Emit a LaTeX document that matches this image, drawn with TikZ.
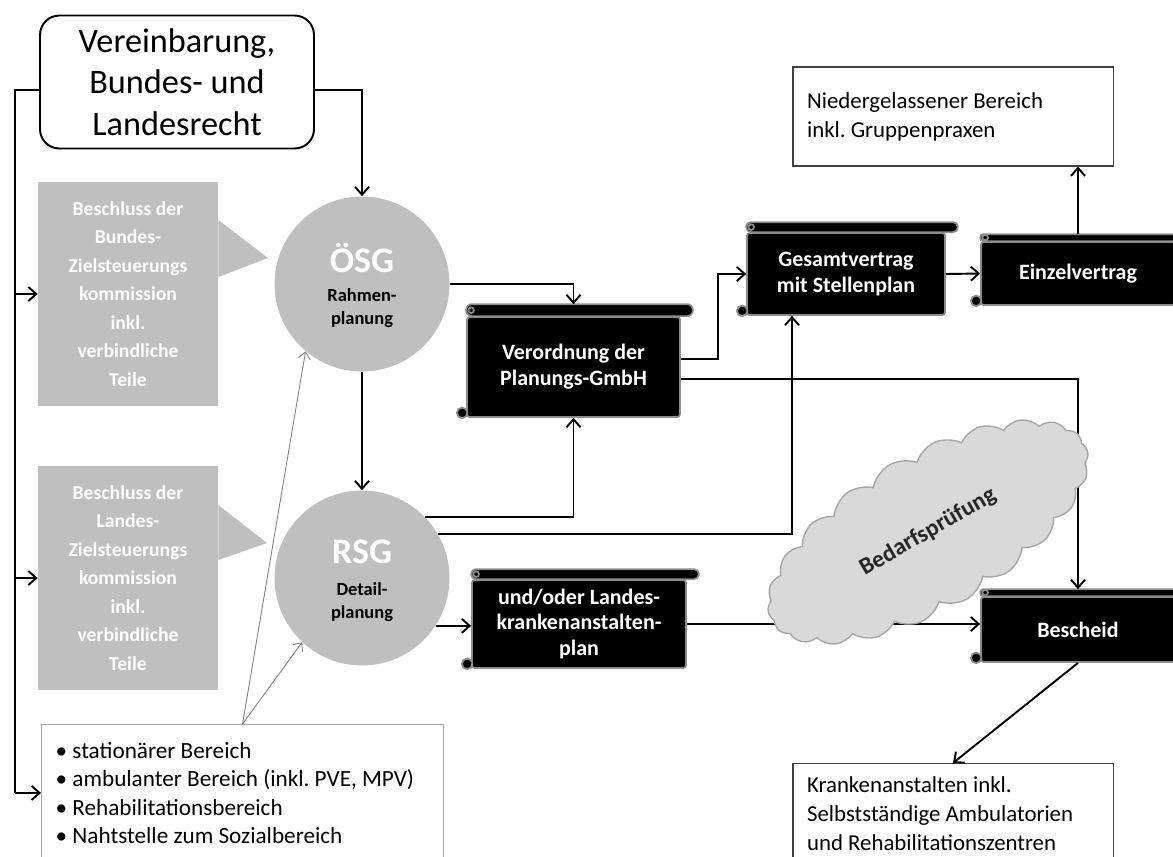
\documentclass[tikz,border=0pt]{standalone}
\usepackage{fontspec}
\setmainfont{Carlito}
\usetikzlibrary{calc,shapes.symbols,arrows.meta}

\definecolor{plangray}{HTML}{BFBFBF}
\definecolor{cloudgray}{HTML}{D9D9D9}
\definecolor{rimgray}{HTML}{8C8C8C}

\tikzset{
	wire/.style={line width=1.1pt},
	conn/.style={wire, -{Straight Barb[length=4.5pt,width=8pt]}},
	hint/.style={line width=0.5pt, draw=gray, -{Straight Barb[length=4pt,width=7pt]}},
	recht/.style={draw, line width=1.1pt, rounded corners=11pt, minimum width=5.48cm, minimum height=2.66cm, inner sep=0, align=center, font=\fontsize{19.5}{23.5}\selectfont},
	beschluss/.style={fill=plangray, text=white, align=center, minimum width=3.6cm, minimum height=4.48cm, inner sep=0, font=\fontsize{11.2}{16.2}\selectfont\bfseries},
	plan/.style={circle, fill=plangray, minimum size=3.5cm, inner sep=0},
	plantitle/.style={text=white, font=\fontsize{20.5}{22}\selectfont\bfseries},
	plansub/.style={align=center, inner sep=0, font=\fontsize{10.5}{13.3}\selectfont\bfseries},
	scroll/.style={fill=black, draw=rimgray, line width=1pt, rounded corners=1.5pt, text=white, align=center, inner sep=0, font=\fontsize{12.5}{14.7}\selectfont\bfseries},
	scrollrim/.style={draw=rimgray, fill=black, line width=1pt},
	infobox/.style={draw=black!75, line width=0.6pt, align=flush left, inner xsep=8pt, text width=5.84cm, font=\fontsize{13}{16.4}\selectfont},
	liste/.style={draw=black!35, line width=0.6pt, align=flush left, inner xsep=8pt, inner ysep=10pt, text width=7.48cm, font=\fontsize{13.2}{16.2}\selectfont},
	wolke/.style={cloud, cloud puffs=22, cloud puff arc=100, aspect=2.4, fill=cloudgray, draw=black!35, line width=0.8pt, minimum width=7.2cm, minimum height=3.1cm, rotate=30, text=black!85, font=\fontsize{13.5}{15}\selectfont\bfseries},
}

\def\scrolldeco(#1:#2){%
	\draw[scrollrim, rounded corners=#2*0.0095cm] (#1.north west) -- ($(#1.north west)+(0,-#2)$) -- ($(#1.north east)+(12,-#2)$) -- ($(#1.north east)+(12,0)$) -- cycle;
	\draw[scrollrim] ($(#1.north west)+(5,{-#2/2})$) circle [radius=1.6pt];
	\draw[scrollrim] ($(#1.south west)+(-4,-5)$) circle [radius=3pt];
	\coordinate (#1-top) at ($(#1.north)+(0,-#2)$);
}

\frenchspacing

\begin{document}
\begin{tikzpicture}[x=0.02cm, y=-0.02cm]
	%%%%% START %%%%%
	\useasboundingbox (0,0) rectangle (1173,856);
	
	% Rechtsgrundlage
	\node[recht] (recht) at (177,82) {Vereinbarung,\\Bundes- und\\Landesrecht};
	
	% Beschluesse der Zielsteuerungskommissionen
	\node[beschluss] (bund) at (128,294) {Beschluss der\\Bundes-\\Zielsteuerungs\\kommission\\inkl.\\verbindliche\\Teile};
	\fill[plangray] (bund.east |- 0,220) -- (268,258) -- (bund.east |- 0,277) -- cycle;
	\node[beschluss] (land) at (128,578) {Beschluss der\\Landes-\\Zielsteuerungs\\kommission\\inkl.\\verbindliche\\Teile};
	\fill[plangray] (land.east |- 0,505) -- (267,543) -- (land.east |- 0,560) -- cycle;
	
	% Planungsebenen
	\node[plan] (osg) at (362,284) {};
	\node[plantitle, anchor=base] (osg-t) at ($(osg.center)+(0,-12)$) {ÖSG};
	\node[plansub] (osg-s) at ($(osg.center)+(0,24)$) {Rahmen-\\planung};
	\node[plan] (rsg) at (362,578) {};
	\node[plantitle, anchor=base] (rsg-t) at ($(rsg.center)+(0,-15)$) {RSG};
	\node[plansub] (rsg-s) at ($(rsg.center)+(0,24)$) {Detail-\\planung};
	
	% Bereiche
	\node[liste, anchor=north west] (liste) at (41,724) {\makebox[9.6pt][l]{\textbullet}stationärer Bereich\\\makebox[9.6pt][l]{\textbullet}ambulanter Bereich (inkl. PVE, MPV)\\\makebox[9.6pt][l]{\textbullet}Rehabilitationsbereich\\\makebox[9.6pt][l]{\textbullet}Nahtstelle zum Sozialbereich};
	
	% Schriftrollen
	\node[scroll, minimum width=4.26cm, minimum height=2cm] (verord) at (573.5,367) {Verordnung der\\Planungs-GmbH};
	\scrolldeco(verord:12)
	\node[scroll, minimum width=3.96cm, minimum height=1.64cm] (gesamt) at (846,274) {Gesamtvertrag\\mit Stellenplan};
	\scrolldeco(gesamt:10)
	\node[scroll, minimum width=3.88cm, minimum height=1.26cm] (einzel) at (1078,273.5) {Einzelvertrag};
	\scrolldeco(einzel:7)
	\node[scroll, minimum width=4.28cm, minimum height=1.76cm] (landplan) at (579,624) {und/oder Landes-\\krankenanstalten-\\plan};
	\scrolldeco(landplan:10)
	\node[scroll, minimum width=3.88cm, minimum height=1.3cm] (bescheid) at (1078,629.5) {Bescheid};
	\scrolldeco(bescheid:7)
	
	% Versorgung
	\node[infobox, minimum height=1.98cm] (nieder) at (953,116.5) {Niedergelassener Bereich\\inkl. Gruppenpraxen};
	\node[infobox, anchor=north, inner ysep=7.5pt] (kranken) at (953,763) {Krankenanstalten inkl.\\Selbstständige Ambulatorien\\und Rehabilitationszentren};
	
	% Verbindungen
	\coordinate (rail) at (15,90);
	\draw[wire] (recht.west |- rail) -- (rail) -- (rail |- liste.west);
	\draw[conn] (rail |- bund.west) -- (bund.west);
	\draw[conn] (rail |- land.west) -- (land.west);
	\draw[conn] (rail |- liste.west) -- (liste.west);
	\draw[conn] (recht.east |- rail) -| (osg.north);
	\draw[conn] (osg.south) -- (rsg.north);
	\draw[conn] (osg.east) -| (verord-top);
	\draw[conn] (rsg.44) -| (verord.south);
	\draw[conn] (rsg.30) -| ([xshift=-1.08cm]gesamt.south);
	\draw[conn] ([yshift=0.16cm]verord.east) -- ++(37,0) |- (gesamt.west);
	\draw[conn] ([yshift=-0.24cm]verord.east) -| (bescheid-top);
	\draw[conn] (gesamt.east) -- (einzel.west);
	\draw[conn] (einzel-top) -- (einzel-top |- nieder.south);
	\draw[conn] (rsg.327) -- (rsg.327 -| landplan.west);
	\draw[conn] (landplan.east) -- (landplan.east -| bescheid.west);
	\draw[conn] (bescheid.south) -- (kranken.north);
	\draw[hint] (liste.north) -- (osg.230);
	\draw[hint] (liste.north) -- (rsg.227);
	
	% Bedarfspruefung
	\node[wolke] (bedarf) at (928,532) {Bedarfsprüfung};
	
	%%%%% END %%%%%
\end{tikzpicture}
\end{document}
